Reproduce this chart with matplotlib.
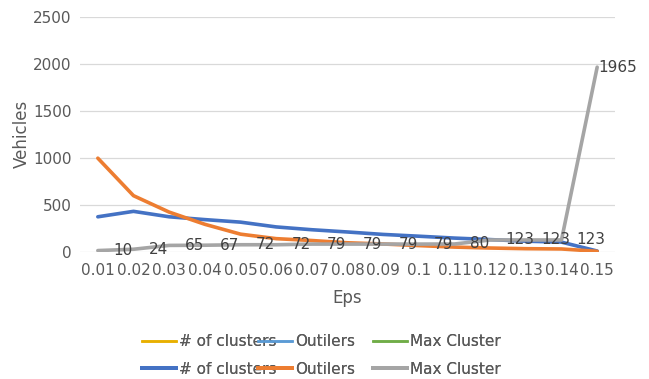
import matplotlib
matplotlib.use("Agg")
import matplotlib.pyplot as plt
from matplotlib.lines import Line2D

# DBSCAN sweep over eps: cluster count, outliers and size of the largest cluster
eps = ["0.01", "0.02", "0.03", "0.04", "0.05", "0.06", "0.07", "0.08",
       "0.09", "0.1", "0.11", "0.12", "0.13", "0.14", "0.15"]
n_clusters = [370, 428, 370, 340, 313, 262, 232, 208, 182, 163, 143, 127, 110, 100, 5]
outliers = [995, 595, 420, 290, 185, 137, 117, 93, 80, 63, 47, 37, 30, 27, 2]
max_cluster = [10, 24, 65, 67, 72, 72, 79, 79, 79, 79, 80, 123, 123, 123, 1965]

TEXT = "#595959"
plt.rcParams["font.family"] = "DejaVu Sans"

fig = plt.figure(figsize=(6.49, 3.79), dpi=100)
ax = fig.add_axes([80 / 649, 1 - 251.5 / 379, 535 / 649, 234.5 / 379])

x = list(range(len(eps)))
ax.plot(x, n_clusters, color="#4472C4", lw=2.6, solid_capstyle="round", zorder=3)
ax.plot(x, outliers, color="#ED7D31", lw=2.6, solid_capstyle="round", zorder=3)
ax.plot(x, max_cluster, color="#A5A5A5", lw=2.6, solid_capstyle="round", zorder=3)

# value labels for the largest cluster, placed to the right of each point
for i, v in enumerate(max_cluster):
    dx = 11 if i < len(max_cluster) - 1 else 1
    ax.annotate(str(v), (i, v), xytext=(dx, 0), textcoords="offset points",
                ha="left", va="center", fontsize=11, color="#404040", zorder=4)

ax.set_xlim(-0.5, len(eps) - 0.5)
ax.set_ylim(0, 2500)
ax.set_yticks([0, 500, 1000, 1500, 2000, 2500])
ax.set_xticks(x)
ax.set_xticklabels(eps)
ax.grid(axis="y", color="#D9D9D9", lw=0.9, zorder=0)
ax.tick_params(length=0, colors=TEXT, labelsize=11)
ax.tick_params(axis="y", pad=6)
ax.tick_params(axis="x", pad=8)
for s in ax.spines.values():
    s.set_visible(False)

ax.set_ylabel("Vehicles", fontsize=12, color=TEXT, labelpad=2)
ax.set_xlabel("Eps", fontsize=12, color=TEXT, labelpad=8)

# two legend rows: thin placeholder entries above, plotted series below
legend_cols = [
    ("# of clusters", "#E8B000", "#4472C4"),
    ("Outilers", "#5B9BD5", "#ED7D31"),
    ("Max Cluster", "#70AD47", "#A5A5A5"),
]
col_x = [142 / 649, 258 / 649, 373 / 649]
for (name, c_top, c_bot), lx in zip(legend_cols, col_x):
    hs = [Line2D([], [], color=c_top, lw=1.8), Line2D([], [], color=c_bot, lw=2.8)]
    leg = fig.legend(hs, [name, name], loc="center left", bbox_to_anchor=(lx, 1 - 355.5 / 379),
                     frameon=False, fontsize=11, labelcolor=TEXT, handlelength=2.2,
                     handletextpad=0.25, labelspacing=0.8, borderpad=0, borderaxespad=0)
    fig.add_artist(leg)

fig.savefig("out.png", dpi=100)
